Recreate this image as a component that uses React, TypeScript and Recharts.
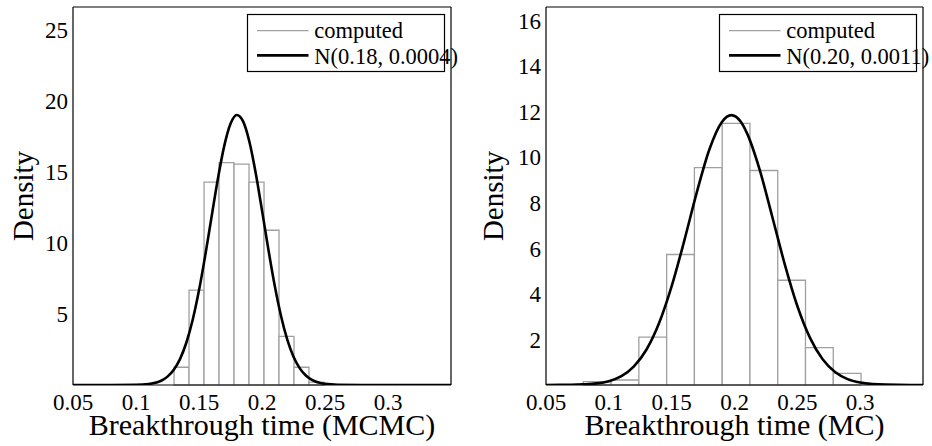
import React from 'react';
import { ComposedChart, Line, XAxis, YAxis, ReferenceArea, Legend } from 'recharts';

const FONT = '"Liberation Serif", "Times New Roman", Times, serif';

// ---- shared ----
const xTicks = [0.05, 0.1, 0.15, 0.2, 0.25, 0.3];
const xDomain: [number, number] = [0.05, 0.35];
const legendHistLabel = 'computed';

// ---- left panel (MCMC) ----
const leftYTicks = [5, 10, 15, 20, 25];
const leftYMax = 26.6;
const leftXLabel = 'Breakthrough time (MCMC)';
const leftNormLabel = 'N(0.18, 0.0004)';
const leftBinEdges = [0.1302, 0.1421, 0.154, 0.1659, 0.1778, 0.1897, 0.2016, 0.2135, 0.2254, 0.2373, 0.2492];
const leftBinHeights = [1.25, 6.67, 14.28, 15.65, 15.54, 14.28, 10.89, 3.42, 1.25, 0.2];
const leftCurveX = [0.05, 0.08, 0.1, 0.11, 0.12, 0.125, 0.13, 0.135, 0.14, 0.145, 0.15, 0.155, 0.16, 0.165, 0.17, 0.175, 0.18, 0.185, 0.19, 0.195, 0.2, 0.205, 0.21, 0.215, 0.22, 0.225, 0.23, 0.235, 0.24, 0.25, 0.26, 0.28, 0.35];
const leftCurveY = [0, 0, 0.01, 0.07, 0.3, 0.59, 1.07, 1.84, 2.99, 4.59, 6.66, 9.14, 11.85, 14.52, 16.81, 18.38, 19.0, 18.55, 17.12, 14.92, 12.29, 9.57, 7.03, 4.89, 3.21, 1.99, 1.17, 0.65, 0.34, 0.08, 0.015, 0, 0];

// ---- right panel (MC) ----
const rightYTicks = [2, 4, 6, 8, 10, 12, 14, 16];
const rightYMax = 16.6;
const rightXLabel = 'Breakthrough time (MC)';
const rightNormLabel = 'N(0.20, 0.0011)';
const rightBinEdges = [0.0797, 0.1018, 0.1239, 0.146, 0.1681, 0.1902, 0.2123, 0.2344, 0.2565, 0.2786, 0.3007];
const rightBinHeights = [0.15, 0.22, 2.1, 5.73, 9.55, 11.49, 9.42, 4.6, 1.64, 0.51];
const rightCurveX = [0.05, 0.07, 0.08, 0.09, 0.1, 0.11, 0.12, 0.13, 0.14, 0.15, 0.16, 0.17, 0.18, 0.19, 0.1975, 0.205, 0.21, 0.22, 0.23, 0.24, 0.25, 0.26, 0.27, 0.28, 0.29, 0.3, 0.31, 0.32, 0.35];
const rightCurveY = [0, 0.01, 0.03, 0.07, 0.17, 0.39, 0.82, 1.56, 2.72, 4.34, 6.33, 8.46, 10.34, 11.55, 11.85, 11.56, 11.05, 9.46, 7.4, 5.3, 3.47, 2.08, 1.14, 0.57, 0.26, 0.11, 0.04, 0.015, 0];

type PanelProps = {
  curveX: number[];
  curveY: number[];
  binEdges: number[];
  binHeights: number[];
  yMax: number;
  yTicks: number[];
  yAxisWidth: number;
  rightMargin: number;
  xLabel: string;
  normLabel: string;
  legendLeft: number;
  yLabelX: number;
};

const TICK_FONT_SIZE = 23;
const frameStroke = { stroke: '#000', strokeWidth: 1.2 };

function XTick(tp: any) {
  return (
    <text x={tp.x} y={tp.y} dy="0.71em" textAnchor="middle" fontFamily={FONT} fontSize={TICK_FONT_SIZE} fill="#000">
      {String(tp.payload?.value)}
    </text>
  );
}

function YTick(tp: any) {
  return (
    <text x={tp.x} y={tp.y} dy="0.355em" textAnchor="end" fontFamily={FONT} fontSize={TICK_FONT_SIZE} fill="#000">
      {String(tp.payload?.value)}
    </text>
  );
}

function LegendBox({ normLabel }: { normLabel: string }) {
  return (
    <svg width={198} height={58} style={{ overflow: 'visible', display: 'block' }}>
      <rect x={0.5} y={0.5} width={197} height={57} fill="#fff" stroke="#000" strokeWidth={1.2} />
      <line x1={10} x2={61.5} y1={16.7} y2={16.7} stroke="#a0a0a0" strokeWidth={1.3} />
      <text x={67.3} y={24} fontFamily={FONT} fontSize={22.5} fill="#000">{legendHistLabel}</text>
      <line x1={10} x2={61.5} y1={41.4} y2={41.4} stroke="#000" strokeWidth={2.6} />
      <text x={67.3} y={49.7} fontFamily={FONT} fontSize={22.5} fill="#000">{normLabel}</text>
    </svg>
  );
}

function Panel(p: PanelProps) {
  const data = p.curveX.map((x, i) => ({ x, y: p.curveY[i] }));
  const bins = p.binHeights.map((h, i) => ({ x1: p.binEdges[i], x2: p.binEdges[i + 1], h }));
  return (
    <ComposedChart width={466} height={446} data={data} margin={{ top: 7, right: p.rightMargin, bottom: 0, left: 0 }}>
      <XAxis
        xAxisId="x"
        dataKey="x"
        type="number"
        domain={xDomain}
        allowDataOverflow
        ticks={xTicks}
        interval={0}
        height={61}
        tickLine={false}
        axisLine={false}
        tickSize={6}
        tickMargin={3}
        tick={<XTick />}
        label={(lp: any) => {
          const vb = lp.viewBox || {};
          const cx = (vb.x ?? 0) + (vb.width ?? 0) / 2;
          return (
            <text x={cx} y={435} textAnchor="middle" fontFamily={FONT} fontSize={30} fill="#000">
              {p.xLabel}
            </text>
          );
        }}
      />
      <XAxis xAxisId="xb" type="number" domain={xDomain} allowDataOverflow ticks={xTicks} interval={0} orientation="bottom" mirror tick={false} tickSize={4} axisLine={frameStroke} tickLine={{ stroke: '#000' }} />
      <XAxis xAxisId="xt" type="number" domain={xDomain} allowDataOverflow ticks={xTicks} interval={0} orientation="top" mirror tick={false} tickSize={4} axisLine={frameStroke} tickLine={{ stroke: '#000' }} />
      <YAxis
        yAxisId="y"
        type="number"
        domain={[0, p.yMax]}
        allowDataOverflow
        ticks={p.yTicks}
        interval={0}
        width={p.yAxisWidth}
        tickLine={false}
        axisLine={false}
        tickSize={3}
        tickMargin={2}
        tick={<YTick />}
        label={(lp: any) => {
          const vb = lp.viewBox || {};
          const cx = (vb.x ?? 0) + p.yLabelX;
          const cy = (vb.y ?? 0) + (vb.height ?? 0) / 2;
          return (
            <text x={cx} y={cy} transform={`rotate(-90 ${cx} ${cy})`} textAnchor="middle" dominantBaseline="central" fontFamily={FONT} fontSize={29} fill="#000">
              Density
            </text>
          );
        }}
      />
      <YAxis yAxisId="yl" type="number" domain={[0, p.yMax]} allowDataOverflow ticks={p.yTicks} interval={0} orientation="left" mirror tick={false} tickSize={4} axisLine={frameStroke} tickLine={{ stroke: '#000' }} />
      <YAxis yAxisId="yr" type="number" domain={[0, p.yMax]} allowDataOverflow ticks={p.yTicks} interval={0} orientation="right" mirror tick={false} tickSize={4} axisLine={frameStroke} tickLine={{ stroke: '#000' }} />
      {bins.map((b, i) => (
        <ReferenceArea
          key={i}
          xAxisId="x"
          yAxisId="y"
          x1={b.x1}
          x2={b.x2}
          y1={0}
          y2={b.h}
          fill="#ffffff"
          fillOpacity={1}
          stroke="#a0a0a0"
          strokeWidth={1.3}
          ifOverflow="visible"
        />
      ))}
      <Line
        xAxisId="x"
        yAxisId="y"
        type="monotone"
        dataKey="y"
        stroke="#000"
        strokeWidth={2.6}
        dot={false}
        activeDot={false}
        isAnimationActive={false}
      />
      <Legend
        verticalAlign="middle"
        align="center"
        layout="horizontal"
        wrapperStyle={{ position: 'absolute', left: p.legendLeft, top: 14, width: 198, height: 58, margin: 0, padding: 0 }}
        content={() => <LegendBox normLabel={p.normLabel} />}
      />
    </ComposedChart>
  );
}

export default function App() {
  return (
    <div style={{ position: 'absolute', left: 0, top: 0, width: 932, height: 446, background: '#fff', display: 'flex' }}>
      <div style={{ width: 466, height: 446 }}>
        <Panel
          curveX={leftCurveX}
          curveY={leftCurveY}
          binEdges={leftBinEdges}
          binHeights={leftBinHeights}
          yMax={leftYMax}
          yTicks={leftYTicks}
          yAxisWidth={73}
          rightMargin={15}
          xLabel={leftXLabel}
          normLabel={leftNormLabel}
          legendLeft={246.5}
          yLabelX={23}
        />
      </div>
      <div style={{ width: 466, height: 446 }}>
        <Panel
          curveX={rightCurveX}
          curveY={rightCurveY}
          binEdges={rightBinEdges}
          binHeights={rightBinHeights}
          yMax={rightYMax}
          yTicks={rightYTicks}
          yAxisWidth={80}
          rightMargin={9}
          xLabel={rightXLabel}
          normLabel={rightNormLabel}
          legendLeft={253.3}
          yLabelX={27}
        />
      </div>
    </div>
  );
}
